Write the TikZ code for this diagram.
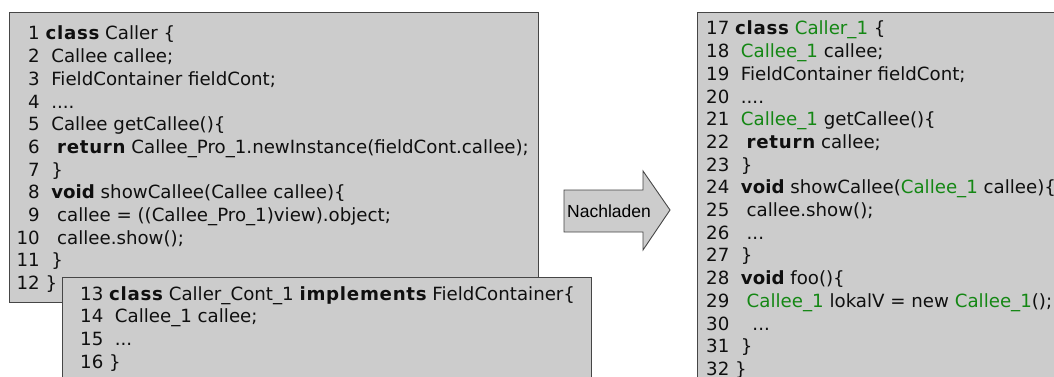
\documentclass[tikz,border=0pt]{standalone}
\usepackage{fontspec}
\setmainfont{DejaVu Sans}
\newfontfamily\arrowfont{Liberation Sans}
\definecolor{boxfill}{RGB}{204,204,204}
\definecolor{boxline}{RGB}{70,70,70}
\definecolor{codegreen}{RGB}{20,135,20}
\definecolor{codetext}{RGB}{15,15,15}
\newcommand\kwd[1]{\textbf{#1}}
\newcommand\kws[1]{{\bfseries\addfontfeatures{LetterSpace=4}#1}}
\newcommand\grn[1]{\textcolor{codegreen}{#1}}
\newcommand\codelines[1]{\vtop{\baselineskip=22.7pt\lineskiplimit=-50pt\lineskip=0pt
  \halign{\hfil##&##\hfil\cr#1}}}
\tikzset{
  codebox/.style={draw=boxline, fill=boxfill, line width=1.2pt, anchor=north west, inner sep=0pt},
  codetxt/.style={anchor=base west, inner sep=0pt, text=codetext, font=\fontsize{18.2}{22.7}\selectfont},
  arrowshape/.style={draw=boxline, fill=boxfill, line width=0.9pt, line join=miter},
  arrowlabel/.style={anchor=base west, inner sep=0pt, text=black, font=\arrowfont\fontsize{17.5}{20}\selectfont}
}
\begin{document}
\begin{tikzpicture}[x=1pt,y=-1pt]
\useasboundingbox (0,0) rectangle (1054,377);
\clip (0,0) rectangle (1054,377);
\fill[white] (0,0) rectangle (1054,377);
% left box
\node[codebox, minimum width=529pt, minimum height=290pt] (leftbox) at (9,12) {};
\node[codetxt] (lefttext) at (16.4,40) {\codelines{%
1&\ \kws{class} Caller \{\cr
2&\ \ Callee callee;\cr
3&\ \ FieldContainer fieldCont;\cr
4&\ \ ....\cr
5&\ \ Callee getCallee()\{\cr
6&\ \ \ \kws{return} Callee\_Pro\_1.newInstance(fieldCont.callee);\cr
7&\ \ \}\cr
8&\ \ \kwd{void} showCallee(Callee callee)\{\cr
9&\ \ \ callee = ((Callee\_Pro\_1)view).object;\cr
10&\ \ \ callee.show();\cr
11&\ \ \}\cr
12&\ \}\cr}};
% lower box
\node[codebox, minimum width=529pt, minimum height=130pt] (lowerbox) at (62,277) {};
\node[codetxt] (lowertext) at (80,300) {\codelines{%
13&\ \kws{class} Caller\_Cont\_1 \kws{implements} FieldContainer\{\cr
14&\ \ Callee\_1 callee;\cr
15&\ \ ...\cr
16&\ \}\cr}};
% right box
\node[codebox, minimum width=529pt, minimum height=400pt] (rightbox) at (697,12) {};
\node[codetxt] (righttext) at (706,35) {\codelines{%
17&\ \kws{class} \grn{Caller\_1} \{\cr
18&\ \ \grn{Callee\_1} callee;\cr
19&\ \ FieldContainer fieldCont;\cr
20&\ \ ....\cr
21&\ \ \grn{Callee\_1} getCallee()\{\cr
22&\ \ \ \kws{return} callee;\cr
23&\ \ \}\cr
24&\ \ \kwd{void} showCallee(\grn{Callee\_1} callee)\{\cr
25&\ \ \ callee.show();\cr
26&\ \ \ ...\cr
27&\ \ \}\cr
28&\ \ \kwd{void} foo()\{\cr
29&\ \ \ \grn{Callee\_1} lokalV = new \grn{Callee\_1}();\cr
30&\ \ \ \ ...\cr
31&\ \ \}\cr
32&\ \}\cr}};
% arrow
\coordinate (a1) at (564,190);
\coordinate (a2) at (643,190);
\coordinate (a3) at (643,171);
\coordinate (a4) at (670,210);
\coordinate (a5) at (643,250);
\coordinate (a6) at (643,232);
\coordinate (a7) at (564,232);
\draw[arrowshape] (a1) -- (a2) -- (a3) -- (a4) -- (a5) -- (a6) -- (a7) -- cycle;
\node[arrowlabel] (nachladen) at (567,217) {Nachladen};
\end{tikzpicture}
\end{document}
